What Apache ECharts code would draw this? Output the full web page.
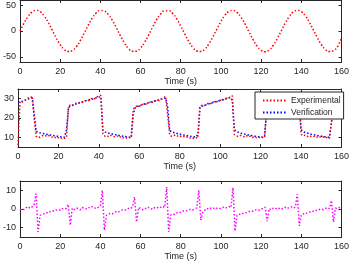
<!DOCTYPE html>
<html>
<head>
<meta charset="utf-8">
<script src="https://cdn.jsdelivr.net/npm/echarts@6/dist/echarts.min.js"></script>
<style>
html, body { margin: 0; padding: 0; background: #fff; }
#chart { width: 352px; height: 262px; }
</style>
</head>
<body>
<div id="chart"></div>
<script>
// sample spacing of each recorded signal (s)
var sineStep = 2;
var sampleStep = 1;

// top panel: reference input, t = 0..160 every 2 s
var sineVals = [
    0, 15.1, 27.9, 36.7, 40.0, 37.4, 29.3, 16.8, 1.9, -13.3,
    -26.5, -35.9, -39.9, -38.0, -30.6, -18.6, -3.8, 11.4, 25.1, 35.0,
    39.7, 38.6, 31.8, 20.3, 5.8, -9.5, -23.5, -34.0, -39.4, -39.1,
    -32.9, -21.9, -7.7, 7.7, 21.9, 32.9, 39.1, 39.4, 34.0, 23.5,
    9.5, -5.8, -20.3, -31.8, -38.6, -39.7, -35.0, -25.1, -11.4, 3.8,
    18.6, 30.6, 38.0, 39.9, 35.9, 26.5, 13.3, -1.9, -16.8, -29.3,
    -37.4, -40.0, -36.7, -27.9, -15.1, 0, 15.1, 27.9, 36.7, 40.0,
    37.4, 29.3, 16.8, 1.9, -13.3, -26.5, -35.9, -39.9, -38.0, -30.6,
    -12.0
];

// middle panel, t = 0..160 every 1 s
var expVals = [
    6, 28.5, 28.2, 29.0, 29.5, 30.4, 30.2, 31.3, 20.0, 10.5,
    9.8, 10.2, 10.8, 11.2, 10.6, 11.0, 10.4, 10.1, 9.6, 10.3,
    9.8, 9.3, 9.9, 9.5, 10.0, 26.2, 26.8, 26.5, 27.3, 27.9,
    27.6, 28.4, 28.2, 28.9, 29.3, 29.0, 29.8, 30.3, 30.0, 30.9,
    31.4, 31.8, 11.5, 10.6, 10.9, 10.3, 11.0, 10.5, 10.2, 10.7,
    9.9, 10.4, 9.7, 10.1, 9.5, 9.9, 9.6, 24.5, 25.6, 26.3,
    26.0, 26.8, 27.2, 27.0, 27.7, 28.1, 27.9, 28.6, 28.9, 29.3,
    29.0, 29.8, 30.4, 31.2, 22.0, 11.2, 10.5, 10.9, 11.3, 10.6,
    10.2, 10.8, 10.4, 9.9, 10.3, 9.6, 10.0, 9.4, 9.8, 9.6,
    26.0, 26.6, 26.3, 27.1, 27.5, 27.2, 28.0, 28.4, 28.1, 28.8,
    29.2, 29.0, 29.7, 30.2, 30.0, 31.0, 31.5, 11.5, 10.8, 10.4,
    11.0, 10.6, 10.3, 10.9, 10.2, 10.6, 9.9, 10.4, 9.8, 10.1,
    9.6, 10.0, 9.8, 25.8, 26.5, 26.2, 27.0, 27.4, 27.1, 27.9,
    28.3, 28.0, 28.7, 29.1, 28.9, 29.6, 30.1, 29.9, 30.8, 31.3,
    11.6, 10.7, 11.1, 10.4, 10.9, 10.5, 10.2, 10.8, 10.1, 10.5,
    9.8, 10.2, 9.7, 10.0, 9.5, 18.0, 26.0, 26.7, 26.4, 27.2,
    27.6
];
var verVals = [
    28.0, 28.3, 28.6, 29.0, 29.4, 29.8, 30.1, 30.5, 22.0, 13.0,
    12.6, 12.3, 12.0, 11.8, 11.6, 11.4, 11.2, 11.0, 10.8, 10.6,
    10.5, 10.3, 10.2, 10.1, 14.0, 25.5, 26.2, 26.6, 27.0, 27.4,
    27.8, 28.1, 28.4, 28.7, 29.0, 29.3, 29.6, 29.9, 30.2, 30.5,
    30.8, 31.0, 13.5, 12.8, 12.4, 12.1, 11.9, 11.6, 11.4, 11.2,
    11.0, 10.8, 10.6, 10.4, 10.3, 10.1, 10.0, 22.0, 25.5, 25.9,
    26.3, 26.7, 27.0, 27.4, 27.7, 28.0, 28.3, 28.6, 28.9, 29.2,
    29.5, 29.8, 30.1, 30.4, 26.0, 13.5, 12.9, 12.5, 12.2, 11.9,
    11.7, 11.4, 11.2, 11.0, 10.8, 10.6, 10.4, 10.3, 10.1, 11.5,
    25.5, 26.0, 26.4, 26.8, 27.2, 27.5, 27.9, 28.2, 28.5, 28.8,
    29.1, 29.4, 29.7, 30.0, 30.3, 30.6, 29.0, 14.0, 13.1, 12.6,
    12.2, 11.9, 11.7, 11.4, 11.2, 11.0, 10.8, 10.6, 10.5, 10.3,
    10.2, 10.1, 11.0, 24.5, 25.9, 26.3, 26.7, 27.1, 27.4, 27.8,
    28.1, 28.4, 28.7, 29.0, 29.3, 29.6, 29.9, 30.2, 30.5, 30.8,
    14.0, 13.0, 12.5, 12.2, 11.9, 11.6, 11.4, 11.2, 11.0, 10.8,
    10.6, 10.4, 10.3, 10.1, 10.0, 17.0, 25.6, 26.0, 26.4, 26.8,
    27.2
];

// bottom panel, t = 0..160 every 1 s
var errVals = [
    -0.5, 0.2, -0.3, 0.6, 1.3, 0.4, 1.1, 1.8, 8.2, -12.3,
    -3.4, -3.0, -2.5, -1.9, -2.2, -1.4, -0.9, -1.2, -0.6, -0.3,
    -0.7, 0.1, -0.2, 0.4, 2.5, -8.7, 0.4, -0.3, 0.6, 0.2,
    -0.4, 0.8, 0.3, 0.1, 0.9, 0.5, 1.3, 0.6, 0.2, 1.0,
    1.6, 10.0, -11.4, -3.4, -2.9, -2.3, -2.6, -1.8, -1.3, -1.6,
    -0.9, -0.5, -0.8, -0.2, 0.3, 0.1, 1.2, 6.4, -7.0, 0.8,
    0.2, -0.4, 0.5, 0.1, 0.9, 0.3, -0.2, 0.7, 1.1, 0.4,
    0.9, 1.5, 0.8, 11.8, -12.3, -3.2, -2.7, -2.9, -2.1, -1.6,
    -1.9, -1.2, -0.8, -1.0, -0.4, -0.1, -0.5, 0.2, 0.6, 10.0,
    -6.0, -1.5, -0.6, 0.3, -0.2, 0.5, 0.1, 0.8, 0.4, -0.1,
    0.6, 1.0, 0.3, 0.9, 1.3, 0.7, 11.4, -11.8, -3.4, -2.8,
    -3.0, -2.3, -1.9, -2.1, -1.4, -1.0, -1.2, -0.6, -0.3, -0.7,
    0.0, 0.3, 1.0, -6.5, 0.2, -0.5, 0.4, 0.0, 0.7, 0.3,
    -0.3, 0.5, 0.9, 0.2, 0.8, 1.2, 0.5, 1.0, 8.0, -9.0,
    -3.1, -2.6, -2.8, -2.0, -1.6, -1.8, -1.1, -0.7, -0.9, -0.3,
    0.0, -0.4, 0.3, 0.7, 0.2, 4.6, -7.0, 0.5, 0.1, 0.8,
    0.3
];

// axis limits and tick labels of each panel
var timeMax = 160;
var timeTick = 20;
var yLimits = [[-60, 60], [5, 35], [-15, 15]];
var yTicks = [[-50, 0, 50], [10, 20, 30], [-10, 0, 10]];
var legendNames = ['Experimental', 'Verification'];

var font = 'Liberation Sans, Arial, Helvetica, sans-serif';
var ink = '#262626';

function toPoints(vals, step) {
    return vals.map(function (v, i) { return [i * step, v]; });
}

var grids = [
    {left: 18, right: 4, top: -2, height: 64},
    {left: 18, right: 4, top: 89, height: 58},
    {left: 18, right: 4, top: 181, height: 57}
];

var xAxes = [];
var yAxes = [];
for (var i = 0; i < 3; i++) {
    // bottom axis with labels, top axis only for the box ticks
    xAxes.push({
        type: 'value', gridIndex: i, position: 'bottom',
        min: 0, max: timeMax, interval: timeTick,
        name: 'Time (s)', nameLocation: 'middle', nameGap: 15,
        nameTextStyle: {fontSize: 9, color: ink, fontFamily: font},
        axisLine: {onZero: false, lineStyle: {color: ink, width: 1}},
        axisTick: {inside: true, length: 3, lineStyle: {color: ink}},
        axisLabel: {margin: 5, fontSize: 9, color: ink, fontFamily: font},
        splitLine: {show: false}
    });
    xAxes.push({
        type: 'value', gridIndex: i, position: 'top',
        min: 0, max: timeMax, interval: timeTick,
        axisLine: {onZero: false, lineStyle: {color: ink, width: 1}},
        axisTick: {inside: true, length: 3, lineStyle: {color: ink}},
        axisLabel: {show: false},
        splitLine: {show: false}
    });
    yAxes.push({
        type: 'value', gridIndex: i, position: 'left',
        min: yLimits[i][0], max: yLimits[i][1],
        axisLine: {show: true, onZero: false, lineStyle: {color: ink, width: 1}},
        axisTick: {show: true, inside: true, length: 3, customValues: yTicks[i], lineStyle: {color: ink}},
        axisLabel: {customValues: yTicks[i], margin: 4, fontSize: 9, color: ink, fontFamily: font},
        splitLine: {show: false}
    });
    yAxes.push({
        type: 'value', gridIndex: i, position: 'right',
        min: yLimits[i][0], max: yLimits[i][1],
        axisLine: {show: true, onZero: false, lineStyle: {color: ink, width: 1}},
        axisTick: {show: true, inside: true, length: 3, customValues: yTicks[i], lineStyle: {color: ink}},
        axisLabel: {show: false},
        splitLine: {show: false}
    });
}

function dotted(color) {
    return {color: color, width: 1.5, type: [1.5, 2]};
}

var myChart = echarts.init(document.getElementById('chart'));
var option = {
    animation: false,
    backgroundColor: '#fff',
    grid: grids,
    xAxis: xAxes,
    yAxis: yAxes,
    legend: {
        data: legendNames,
        orient: 'vertical',
        left: 255, top: 92,
        padding: [4, 3, 2, 7],
        itemGap: 3, itemWidth: 23, itemHeight: 10,
        backgroundColor: '#fff',
        borderColor: ink, borderWidth: 1, borderRadius: 0,
        selectedMode: false,
        // hide the marker dot, keep only the dotted line sample
        itemStyle: {color: 'transparent', borderColor: 'transparent', borderWidth: 0, opacity: 0},
        textStyle: {fontSize: 8.5, color: ink, fontFamily: font}
    },
    series: [
        {
            name: 'Input', type: 'line', xAxisIndex: 0, yAxisIndex: 0,
            data: toPoints(sineVals, sineStep), smooth: true,
            symbol: 'none', lineStyle: dotted('#ff0000'), color: '#ff0000'
        },
        {
            name: legendNames[1], type: 'line', xAxisIndex: 2, yAxisIndex: 2,
            data: toPoints(verVals, sampleStep),
            symbol: 'none', lineStyle: dotted('#0000ff'), color: '#0000ff'
        },
        {
            name: legendNames[0], type: 'line', xAxisIndex: 2, yAxisIndex: 2,
            data: toPoints(expVals, sampleStep),
            symbol: 'none', lineStyle: dotted('#ff0000'), color: '#ff0000'
        },
        {
            name: 'Error', type: 'line', xAxisIndex: 4, yAxisIndex: 4,
            data: toPoints(errVals, sampleStep),
            symbol: 'none', lineStyle: dotted('#ff00ff'), color: '#ff00ff'
        }
    ]
};
myChart.setOption(option);
</script>
</body>
</html>
